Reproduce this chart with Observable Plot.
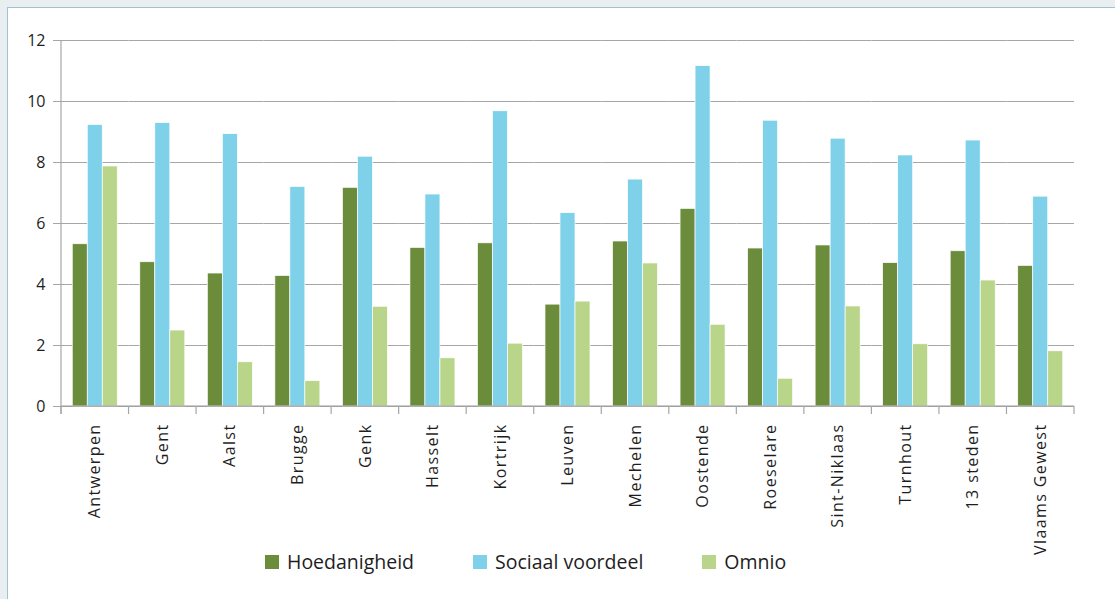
<!DOCTYPE html>
<html>
<head>
<meta charset="utf-8">
<script src="https://cdn.jsdelivr.net/npm/d3@7"></script>
<script src="https://cdn.jsdelivr.net/npm/@observablehq/plot@0.6"></script>
<style>
  html, body { margin: 0; padding: 0; }
  body { width: 1115px; height: 599px; background: #e9eef1; position: relative; overflow: hidden; font-family: "Open Sans", sans-serif; }
  #panel { position: absolute; left: 7px; top: 7px; width: 1200px; height: 700px; background: #fff; border: 1.5px solid #9fc3d1; }
  #chart { position: absolute; left: 0; top: 0; }
  #legend { position: absolute; left: 265px; top: 548px; display: flex; gap: 59px; align-items: center; font-size: 19.5px; color: #1e1e1e; }
  .item { display: flex; align-items: center; gap: 8px; }
  .sw { width: 14px; height: 14px; display: inline-block; }
  g[aria-label="fx-axis tick label"] text { letter-spacing: 1.4px; }
</style>
</head>
<body>
<div id="panel"></div>
<div id="chart"></div>
<div id="legend"></div>
<script>
const categories = ["Antwerpen","Gent","Aalst","Brugge","Genk","Hasselt","Kortrijk","Leuven","Mechelen","Oostende","Roeselare","Sint-Niklaas","Turnhout","13 steden","Vlaams Gewest"];
const series = ["Hoedanigheid","Sociaal voordeel","Omnio"];
const hoedanigheid    = [5.32,4.73,4.36,4.28,7.17,5.20,5.35,3.34,5.41,6.48,5.18,5.28,4.70,5.09,4.61];
const sociaalVoordeel = [9.23,9.29,8.93,7.20,8.19,6.95,9.68,6.34,7.44,11.16,9.37,8.78,8.23,8.72,6.88];
const omnio           = [7.87,2.49,1.45,0.83,3.27,1.58,2.06,3.44,4.69,2.68,0.91,3.28,2.04,4.13,1.81];
const colors = ["#6b8c3b","#7fd1ea","#b8d58a"];
const yTicks = [0,2,4,6,8,10,12];

const seriesValues = [hoedanigheid, sociaalVoordeel, omnio];
const rows = categories.flatMap((c, i) => series.map((s, j) => ({category: c, series: s, value: seriesValues[j][i]})));

const chart = Plot.plot({
  width: 1115,
  height: 599,
  marginTop: 40,
  marginBottom: 193,
  marginLeft: 61,
  marginRight: 41,
  style: {fontFamily: "Open Sans", fontSize: "16px", color: "#1e1e1e", background: "transparent"},
  fx: {domain: categories, padding: 0, round: false, label: null},
  x: {domain: series, paddingInner: 0, paddingOuter: 0.75, round: false, axis: null},
  y: {domain: [0, 12], label: null},
  color: {domain: series, range: colors},
  marks: [
    Plot.gridY(yTicks, {stroke: "#a6a6a6", strokeOpacity: 1, strokeWidth: 1}),
    Plot.barY(rows, {fx: "category", x: "series", y: "value", fill: "series", stroke: "#ffffff", strokeWidth: 0.7}),
    Plot.axisY(yTicks, {tickSize: 8, tickPadding: 8, stroke: "#a6a6a6", fill: "#1e1e1e", fontSize: 16, label: null}),
    Plot.axisFx({anchor: "bottom", tickRotate: -90, tickSize: 0, tickPadding: 17, fontSize: 16, fill: "#1e1e1e", label: null})
  ]
});
document.getElementById("chart").append(chart);

// axis lines and category boundary ticks, positioned through Plot's own scales
const fx = chart.scale("fx"), y = chart.scale("y");
const y0 = y.apply(0), yTop = y.apply(12);
const edges = categories.map(c => fx.apply(c)).concat([fx.apply(categories[categories.length - 1]) + fx.bandwidth]);
const g = d3.select(chart).append("g").attr("stroke", "#a6a6a6").attr("stroke-width", 1.2);
g.append("line").attr("x1", edges[0]).attr("x2", edges[edges.length - 1]).attr("y1", y0).attr("y2", y0).attr("stroke", "#999");
edges.forEach(x => g.append("line").attr("x1", x).attr("x2", x).attr("y1", y0).attr("y2", y0 + 8));
g.append("line").attr("x1", edges[0]).attr("x2", edges[0]).attr("y1", yTop).attr("y2", y0 + 8);

// legend
const legend = d3.select("#legend");
series.forEach((s, j) => {
  const it = legend.append("div").attr("class", "item");
  it.append("span").attr("class", "sw").style("background", colors[j]);
  it.append("span").text(s);
});
</script>
</body>
</html>
